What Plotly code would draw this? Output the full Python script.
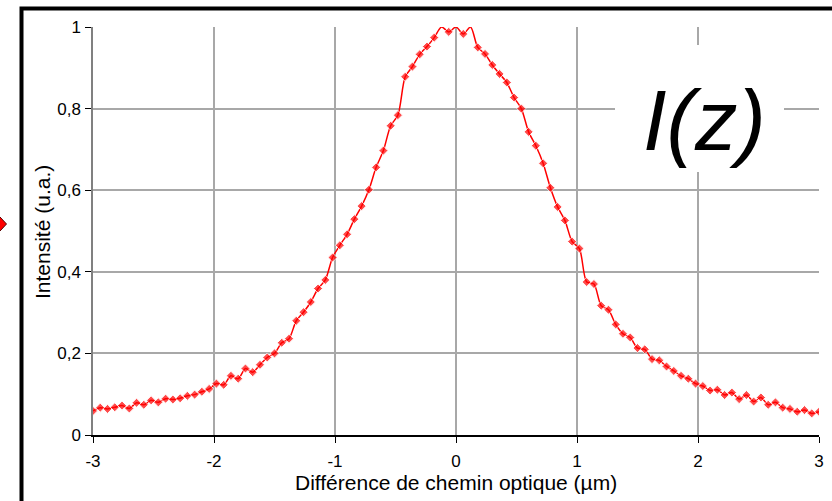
import plotly.graph_objects as go

# optical path difference (µm), sampled every 0.06 µm
opd = [
    -3.00, -2.94, -2.88, -2.82, -2.76, -2.70, -2.64, -2.58, -2.52, -2.46,
    -2.40, -2.34, -2.28, -2.22, -2.16, -2.10, -2.04, -1.98, -1.92, -1.86,
    -1.80, -1.74, -1.68, -1.62, -1.56, -1.50, -1.44, -1.38, -1.32, -1.26,
    -1.20, -1.14, -1.08, -1.02, -0.96, -0.90, -0.84, -0.78, -0.72, -0.66,
    -0.60, -0.54, -0.48, -0.42, -0.36, -0.30, -0.24, -0.18, -0.12, -0.06,
    0.00, 0.06, 0.12, 0.18, 0.24, 0.30, 0.36, 0.42, 0.48, 0.54,
    0.60, 0.66, 0.72, 0.78, 0.84, 0.90, 0.96, 1.02, 1.08, 1.14,
    1.20, 1.26, 1.32, 1.38, 1.44, 1.50, 1.56, 1.62, 1.68, 1.74,
    1.80, 1.86, 1.92, 1.98, 2.04, 2.10, 2.16, 2.22, 2.28, 2.34,
    2.40, 2.46, 2.52, 2.58, 2.64, 2.70, 2.76, 2.82, 2.88, 2.94,
    3.00,
]

intensity = [
    0.059, 0.067, 0.064, 0.068, 0.072, 0.065, 0.079, 0.074, 0.085, 0.080,
    0.089, 0.087, 0.090, 0.096, 0.099, 0.106, 0.113, 0.126, 0.123, 0.145,
    0.138, 0.163, 0.154, 0.172, 0.190, 0.200, 0.226, 0.236, 0.280, 0.301,
    0.326, 0.359, 0.380, 0.435, 0.465, 0.492, 0.529, 0.561, 0.601, 0.656,
    0.697, 0.758, 0.784, 0.878, 0.903, 0.933, 0.952, 0.974, 1.000, 0.988,
    1.000, 0.983, 1.000, 0.950, 0.934, 0.907, 0.885, 0.864, 0.827, 0.800,
    0.743, 0.709, 0.666, 0.606, 0.559, 0.526, 0.474, 0.457, 0.375, 0.370,
    0.317, 0.307, 0.271, 0.248, 0.239, 0.213, 0.210, 0.186, 0.183, 0.168,
    0.157, 0.145, 0.138, 0.126, 0.120, 0.109, 0.111, 0.098, 0.104, 0.088,
    0.098, 0.082, 0.092, 0.074, 0.080, 0.067, 0.064, 0.057, 0.061, 0.053,
    0.057,
]

x_ticks = [-3, -2, -1, 0, 1, 2, 3]
x_labels = ["-3", "-2", "-1", "0", "1", "2", "3"]
y_ticks = [0, 0.2, 0.4, 0.6, 0.8, 1]
y_labels = ["0", "0,2", "0,4", "0,6", "0,8", "1"]

W, H = 832, 501
L, R, T, B = 93, 13, 27, 66
FONT = "Arial, Liberation Sans, sans-serif"


def px_to_paper(px, py):
    return (px - L) / (W - L - R), (H - B - py) / (H - T - B)


# points sitting on the top edge of the plot are clipped (no visible marker)
marker_sizes = [0 if v >= 1 else 7 for v in intensity]

fig = go.Figure()
fig.add_trace(go.Scatter(
    x=opd,
    y=intensity,
    mode="lines+markers",
    line=dict(color="#ff0000", width=1.5, shape="spline", smoothing=0.8),
    marker=dict(symbol="diamond", size=marker_sizes, color="#ff0000"),
    showlegend=False,
    cliponaxis=True,
))

tick_font = dict(family=FONT, size=17, color="#000000")
title_font = dict(family=FONT, size=21, color="#000000")
fig.update_xaxes(
    range=[-3, 3],
    tickvals=x_ticks, ticktext=x_labels,
    ticks="outside", ticklen=6, tickcolor="#000000",
    showgrid=True, gridcolor="#a8a8a8", gridwidth=1.5,
    showline=True, linecolor="#000000", linewidth=1.5,
    zeroline=False, automargin=False,
    tickfont=tick_font, ticklabelstandoff=4,
)
fig.update_yaxes(
    range=[0, 1],
    tickvals=y_ticks, ticktext=y_labels,
    ticks="outside", ticklen=6, tickcolor="#000000",
    showgrid=True, gridcolor="#a8a8a8", gridwidth=1.5,
    showline=True, linecolor="#808080", linewidth=1.5,
    zeroline=False, automargin=False,
    tickfont=tick_font, ticklabelstandoff=1,
)

# axis titles
tx, ty = px_to_paper(456, 482)
fig.add_annotation(x=tx, y=ty, xref="paper", yref="paper", text="Différence de chemin optique (µm)",
                   showarrow=False, xanchor="center", yanchor="middle", font=title_font)
tx, ty = px_to_paper(42, 232)
fig.add_annotation(x=tx, y=ty, xref="paper", yref="paper", text="Intensité (u.a.)", textangle=-90,
                   showarrow=False, xanchor="center", yanchor="middle", font=title_font)

# outer frame
x0, y0 = px_to_paper(21.5, 8.5)
x1, y1 = px_to_paper(845, 515)
fig.add_shape(type="rect", xref="paper", yref="paper", x0=x0, y0=y1, x1=x1, y1=y0,
              line=dict(color="#000000", width=4), fillcolor="rgba(0,0,0,0)", layer="above")

# red arrow tip on the left edge
pts = [px_to_paper(6.5, 224), px_to_paper(0, 217), px_to_paper(-7, 224), px_to_paper(0, 231)]
path = "M " + " L ".join(f"{a},{b}" for a, b in pts) + " Z"
fig.add_shape(type="path", xref="paper", yref="paper", path=path,
              fillcolor="#ff0000", line=dict(color="#550000", width=1))

# white box behind the I(z) label
bx0, by0 = px_to_paper(615, 45)
bx1, by1 = px_to_paper(784, 172)
fig.add_shape(type="rect", xref="paper", yref="paper", x0=bx0, y0=by1, x1=bx1, y1=by0,
              line=dict(width=0), fillcolor="#ffffff", layer="above")

lx, ly = px_to_paper(704, 121)
fig.add_annotation(
    x=lx, y=ly, xref="paper", yref="paper",
    text="<i>I(z)</i>", showarrow=False, xanchor="center", yanchor="middle",
    font=dict(family=FONT, size=85, color="#000000"),
)

fig.update_layout(
    width=W, height=H,
    margin=dict(l=L, r=R, t=T, b=B),
    paper_bgcolor="#ffffff",
    plot_bgcolor="#ffffff",
)

fig.write_html(
    "out.html",
    config={"displayModeBar": False},
    post_script="document.body.style.margin='0';document.body.style.padding='0';",
)
